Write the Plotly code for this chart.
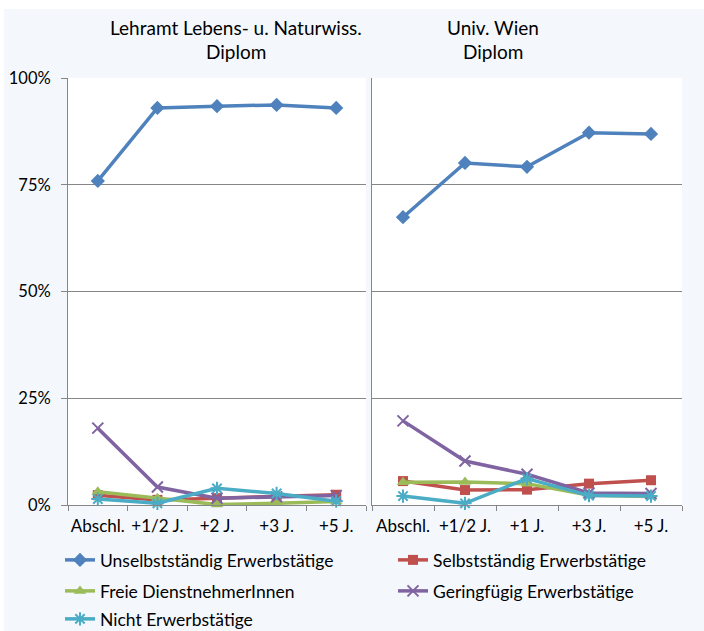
import plotly.graph_objects as go

W, H = 704, 631

cats_left = ["Abschl.", "+1/2 J.", "+2 J.", "+3 J.", "+5 J."]
cats_right = ["Abschl.", "+1/2 J.", "+1 J.", "+3 J.", "+5 J."]

series_names = [
    "Unselbstständig Erwerbstätige",
    "Selbstständig Erwerbstätige",
    "Freie DienstnehmerInnen",
    "Geringfügig Erwerbstätige",
    "Nicht Erwerbstätige",
]

# Left panel: Lehramt Lebens- u. Naturwiss. Diplom
left_unselbst = [0.759, 0.930, 0.934, 0.937, 0.930]
left_selbst = [0.023, 0.012, 0.016, 0.019, 0.024]
left_freie = [0.031, 0.016, 0.001, 0.004, 0.008]
left_gering = [0.180, 0.042, 0.016, 0.019, 0.022]
left_nicht = [0.014, 0.004, 0.039, 0.027, 0.009]

# Right panel: Univ. Wien Diplom
right_unselbst = [0.674, 0.801, 0.792, 0.872, 0.869]
right_selbst = [0.056, 0.035, 0.036, 0.050, 0.058]
right_freie = [0.053, 0.054, 0.050, 0.023, 0.020]
right_gering = [0.197, 0.103, 0.072, 0.028, 0.027]
right_nicht = [0.021, 0.004, 0.062, 0.022, 0.021]

y_ticks = [0, 0.25, 0.5, 0.75, 1.0]
y_ticklabels = ["0%", "25%", "50%", "75%", "100%"]

colors = ["#4F81BD", "#C0504D", "#9BBB59", "#8064A2", "#4BACC6"]
symbols = ["diamond", "square", "triangle-up", "x-thin-open", "asterisk-open"]
msizes = [11, 10, 11, 11, 11]
legend_ids = ["legend", "legend", "legend2", "legend2", "legend3"]

left_vals = [left_unselbst, left_selbst, left_freie, left_gering, left_nicht]
right_vals = [right_unselbst, right_selbst, right_freie, right_gering, right_nicht]

FONT = "Lato"
fig = go.Figure()

for i, name in enumerate(series_names):
    mk = dict(symbol=symbols[i], size=msizes[i], color=colors[i],
              line=dict(color=colors[i], width=2 if i >= 3 else 0))
    fig.add_trace(go.Scatter(
        x=cats_left, y=left_vals[i], name=name, mode="lines+markers",
        line=dict(color=colors[i], width=3.5), marker=mk,
        xaxis="x", yaxis="y", legend=legend_ids[i], cliponaxis=False,
    ))
    fig.add_trace(go.Scatter(
        x=cats_right, y=right_vals[i], name=name, mode="lines+markers",
        line=dict(color=colors[i], width=3.5), marker=mk,
        xaxis="x2", yaxis="y2", showlegend=False, cliponaxis=False,
    ))

ydom = [1 - 505 / H, 1 - 78 / H]
axcol = "#868686"

xcommon = dict(type="category", showline=True, linecolor=axcol, linewidth=1,
               ticks="outside", tickson="boundaries", ticklen=5, tickcolor=axcol,
               showgrid=False, tickangle=0, automargin=False, ticklabelstandoff=6,
               tickfont=dict(family=FONT, size=17, color="#000"),
               fixedrange=True)
fig.update_layout(
    width=W, height=H,
    margin=dict(l=0, r=0, t=0, b=0, pad=0, autoexpand=False),
    paper_bgcolor="#F4F8FD",
    plot_bgcolor="#FFFFFF",
    font=dict(family=FONT, color="#000"),
    xaxis=dict(domain=[68 / W, 366 / W], anchor="y", categoryarray=cats_left,
               categoryorder="array", range=[-0.5, 4.5], **xcommon),
    xaxis2=dict(domain=[372 / W, 682 / W], anchor="y2", categoryarray=cats_right,
                categoryorder="array", range=[-0.5, 4.5], **xcommon),
    yaxis=dict(domain=ydom, range=[0, 1], tickvals=y_ticks, ticktext=y_ticklabels,
               showline=True, linecolor=axcol, linewidth=1, ticks="outside",
               ticklen=6, tickcolor=axcol, showgrid=True, gridcolor=axcol,
               gridwidth=1, zeroline=False, ticklabelstandoff=7, automargin=False,
               tickfont=dict(family=FONT, size=16.5, color="#000"), anchor="x",
               fixedrange=True),
    yaxis2=dict(domain=ydom, range=[0, 1], tickvals=y_ticks, showticklabels=False,
                showline=True, linecolor=axcol, linewidth=1, ticks="",
                showgrid=True, gridcolor=axcol, gridwidth=1, zeroline=False,
                anchor="x2", fixedrange=True, automargin=False),
    showlegend=True,
)

leg_common = dict(orientation="h", xanchor="left", yanchor="middle",
                  font=dict(family=FONT, size=17.5, color="#000"),
                  bgcolor="rgba(0,0,0,0)", entrywidth=288, entrywidthmode="pixels",
                  itemwidth=30)
fig.update_layout(
    legend=dict(x=60 / W, y=1 - 560 / H, **leg_common),
    legend2=dict(x=60 / W, y=1 - 591 / H, **leg_common),
    legend3=dict(x=60 / W, y=1 - 619 / H, **leg_common),
)

# white strips at the top and left edges
fig.add_shape(type="rect", xref="paper", yref="paper", x0=0, x1=1, y0=1 - 9 / H, y1=1,
              fillcolor="#FFFFFF", line=dict(width=0), layer="below")
fig.add_shape(type="rect", xref="paper", yref="paper", x0=0, x1=4 / W, y0=0, y1=1,
              fillcolor="#FFFFFF", line=dict(width=0), layer="below")

titles = [
    ("Lehramt Lebens- u. Naturwiss.", 236, 27),
    ("Diplom", 236, 52),
    ("Univ. Wien", 493, 27),
    ("Diplom", 493, 52),
]
for txt, px, py in titles:
    fig.add_annotation(text=txt, x=px / W, y=1 - py / H, xref="paper", yref="paper",
                       xanchor="center", yanchor="middle", showarrow=False,
                       font=dict(family=FONT, size=19, color="#000"))

post = (
    "document.documentElement.style.margin='0px';"
    "document.documentElement.style.overflow='hidden';"
    "document.body.style.margin='0px';"
    "document.body.style.overflow='hidden';"
    "var d=document.getElementById('{plot_id}');"
    "d.style.position='fixed';d.style.top='0px';d.style.left='0px';"
)
fig.write_html("out.html", config={"displayModeBar": False}, post_script=post)
